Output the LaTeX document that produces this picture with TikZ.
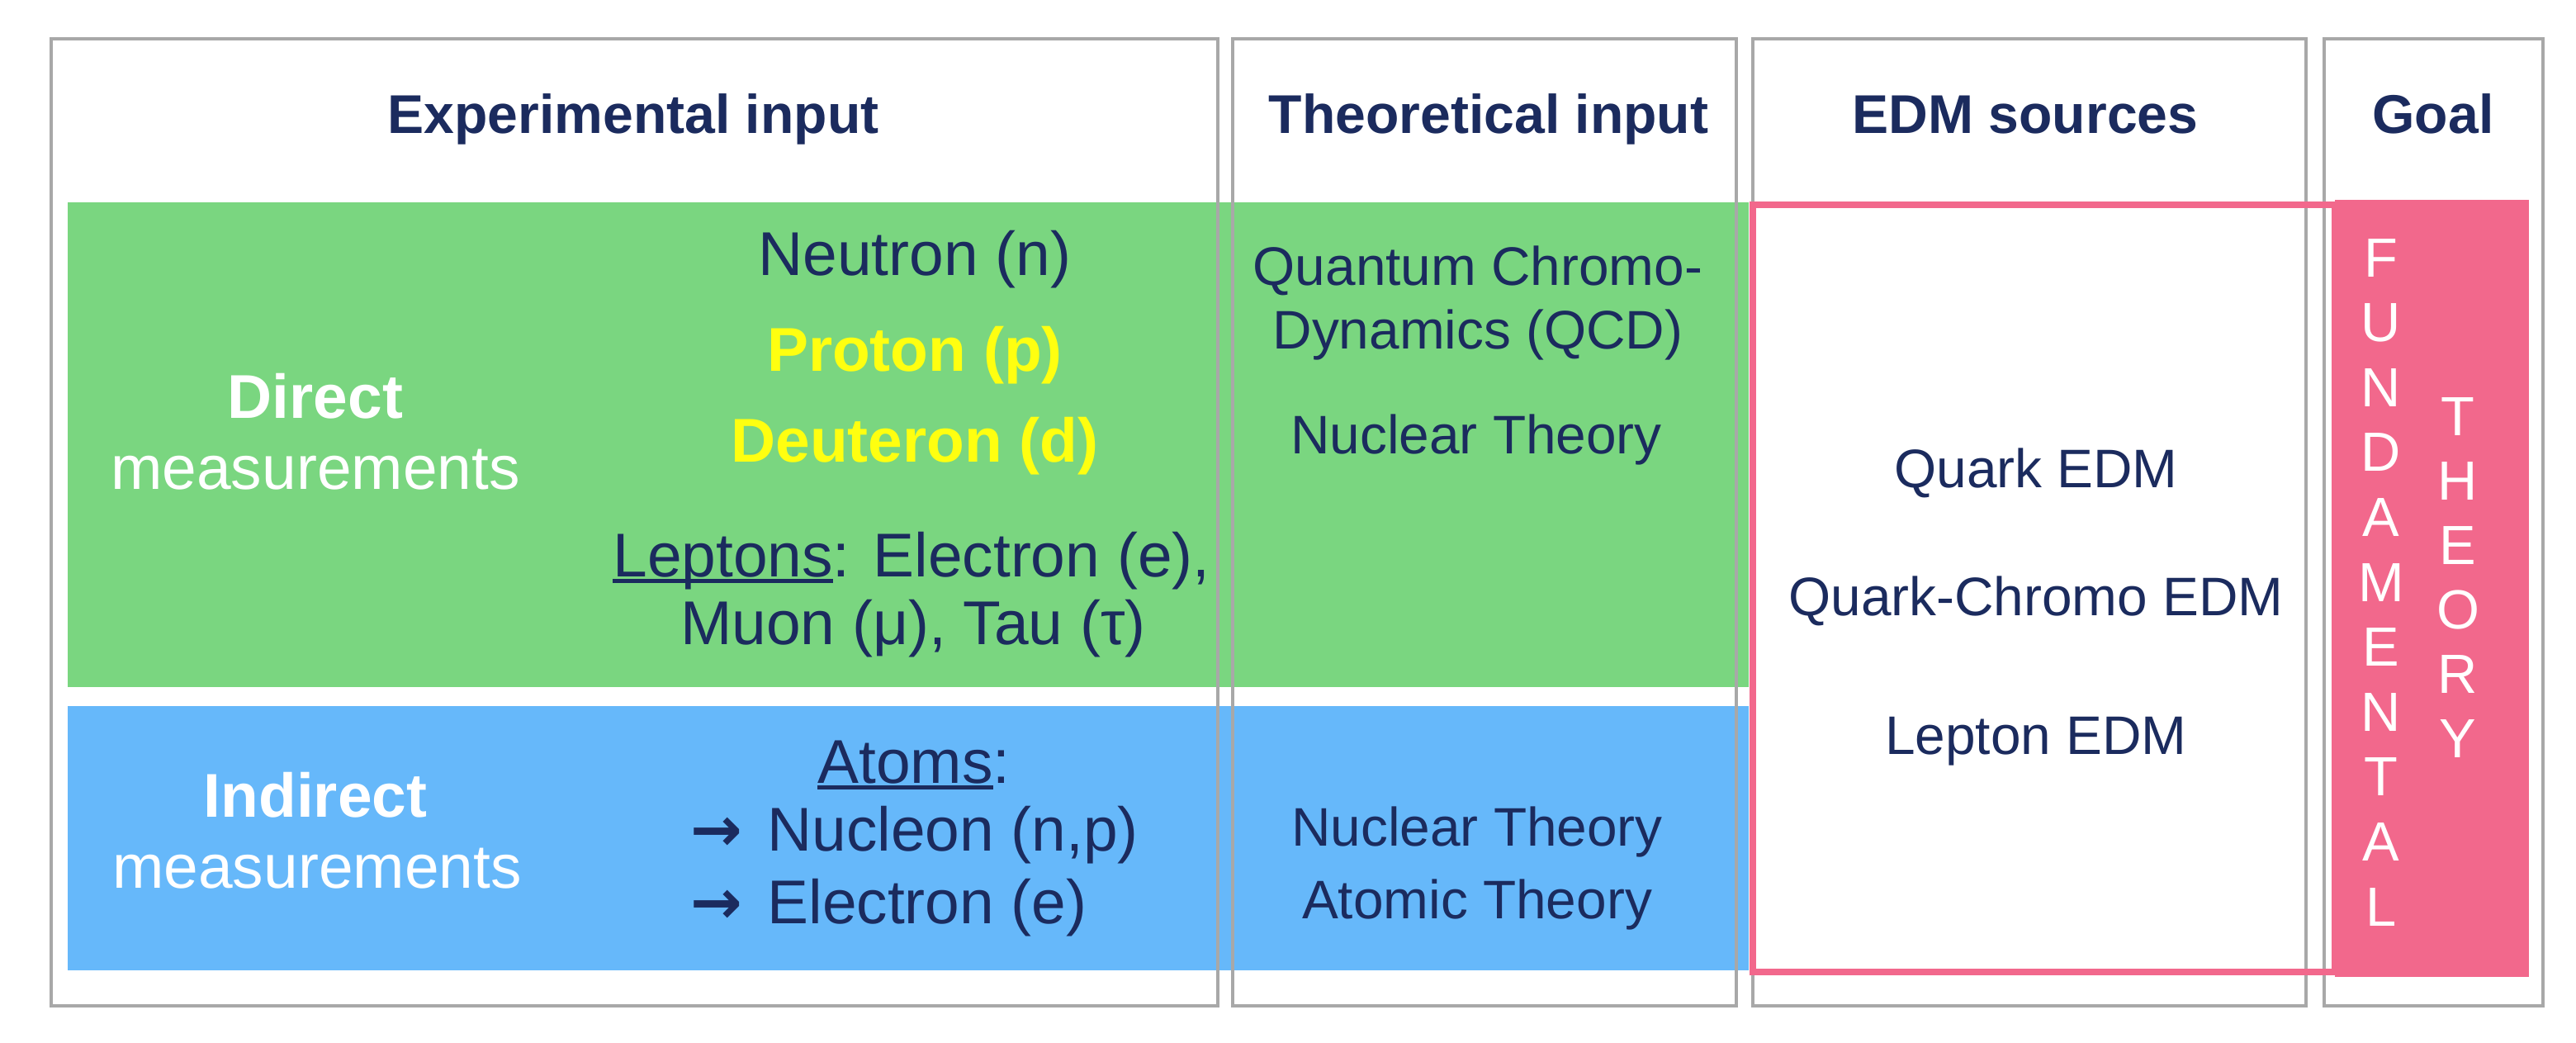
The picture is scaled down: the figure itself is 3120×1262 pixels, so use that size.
\documentclass[tikz,border=0pt]{standalone}
\usepackage{fontspec}
\setmainfont{Liberation Sans}
\newfontfamily\arrowfont{DejaVu Sans}
\definecolor{navy}{HTML}{1B2B5E}
\definecolor{grn}{HTML}{7AD680}
\definecolor{blu}{HTML}{66B8FA}
\definecolor{pnk}{HTML}{F2688C}
\definecolor{gbord}{HTML}{A8A8A8}
\definecolor{ylw}{HTML}{FFFF10}
\newcommand\ulword[1]{\setbox0\hbox{#1}\rlap{\rule[-0.11em]{\wd0}{0.07em}}\box0}
\newcommand\thickarrow{{\arrowfont\bfseries →}\hspace{0.4em}}
\begin{document}
\begin{tikzpicture}[x=0.01cm,y=-0.01cm,
  colbox/.style={draw=gbord,line width=1.4pt},
  hdr/.style={anchor=base,inner sep=0pt,text=navy,font=\fontsize{18.8}{22}\selectfont\bfseries},
  big/.style={anchor=base,inner sep=0pt,text=navy,font=\fontsize{21.3}{25}\selectfont},
  bigb/.style={anchor=base,inner sep=0pt,font=\fontsize{21.3}{25}\selectfont\bfseries},
  mid/.style={anchor=base,inner sep=0pt,text=navy,font=\fontsize{18.7}{22}\selectfont},
  vlet/.style={anchor=base,inner sep=0pt,text=white,font=\fontsize{19}{22}\selectfont}]
\useasboundingbox[fill=white] (0,0) rectangle (3120,1262);
% coloured bands
\fill[grn] (82,245) rectangle (2118,832);
\fill[blu] (82,855) rectangle (2118,1175);
% column frames
\draw[colbox] (62,47) rectangle (1475,1218);
\draw[colbox] (1493,47) rectangle (2103,1218);
\draw[colbox] (2123,47) rectangle (2793,1218);
\draw[colbox] (2815,47) rectangle (3080,1218);
% EDM sources outline and goal box
\draw[pnk,line width=2.2pt] (2123,248) rectangle (2828,1177);
\fill[pnk] (2828,242) rectangle (3063,1183);
% headers
\node[hdr] (h1) at (767,161) {Experimental input};
\node[hdr] (h2) at (1803,161) {Theoretical input};
\node[hdr] (h3) at (2453,161) {EDM sources};
\node[hdr] (h4) at (2947,161) {Goal};
% column 1, direct
\node[bigb,text=white] (dir) at (382,506) {Direct};
\node[big,text=white] (dirm) at (382,592) {measurements};
\node[big] (neu) at (1108,333) {Neutron (n)};
\node[bigb,text=ylw] (pro) at (1108,449) {Proton (p)};
\node[bigb,text=ylw] (deu) at (1108,559) {Deuteron (d)};
\node[big] (lep) at (1104,698) {\ulword{Leptons}: Electron (e),};
\node[big] (muo) at (1106,780) {Muon (μ), Tau (τ)};
% column 1, indirect
\node[bigb,text=white] (ind) at (382,989) {Indirect};
\node[big,text=white] (indm) at (384,1075) {measurements};
\node[big] (ato) at (1107,948) {\ulword{Atoms}:};
\node[big,anchor=base west] (nuc) at (836,1030) {\thickarrow Nucleon (n,p)};
\node[big,anchor=base west] (ele) at (836,1118) {\thickarrow Electron (e)};
% column 2
\node[mid] (qcd1) at (1790,345) {Quantum Chromo-};
\node[mid] (qcd2) at (1790,422) {Dynamics (QCD)};
\node[mid] (nt1) at (1788,549) {Nuclear Theory};
\node[mid] (nt2) at (1789,1024) {Nuclear Theory};
\node[mid] (at2) at (1789,1112) {Atomic Theory};
% column 3
\node[mid] (qe) at (2466,590) {Quark EDM};
\node[mid] (qce) at (2466,745) {Quark-Chromo EDM};
\node[mid] (le) at (2466,913) {Lepton EDM};
% column 4, vertical letters
\foreach \l [count=\i from 0] in {F,U,N,D,A,M,E,N,T,A,L}
  \node[vlet] (fu\i) at (2884,{335+\i*78.6}) {\l};
\foreach \l [count=\i from 0] in {T,H,E,O,R,Y}
  \node[vlet] (th\i) at (2977,{527+\i*78}) {\l};
\end{tikzpicture}
\end{document}
